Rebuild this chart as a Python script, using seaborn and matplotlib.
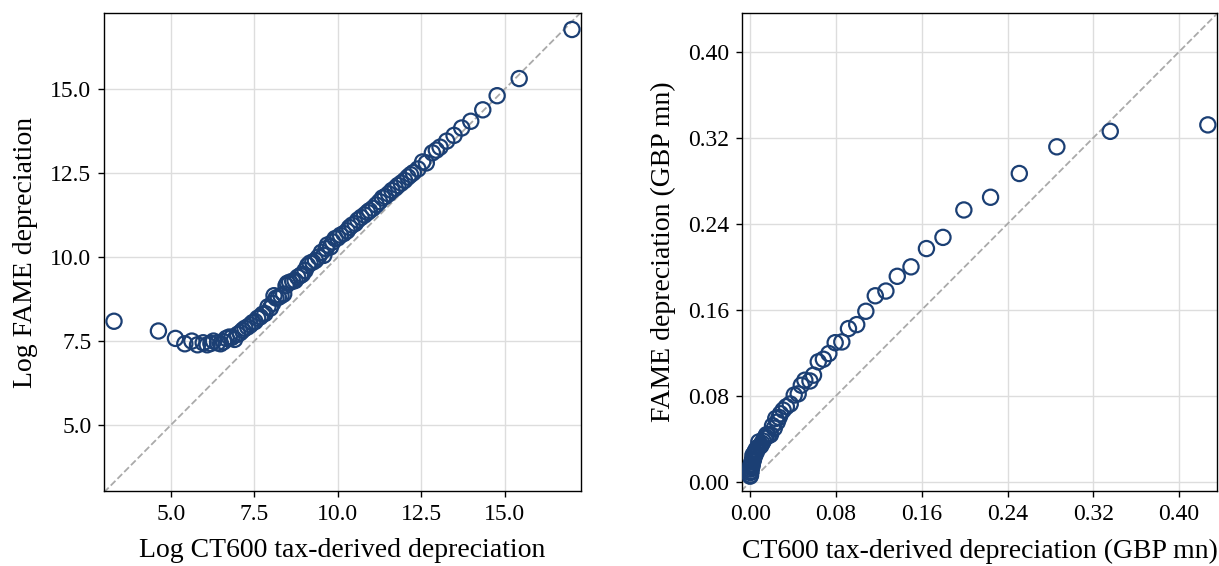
import numpy as np
import pandas as pd
import matplotlib
matplotlib.use("Agg")
import matplotlib.pyplot as plt
from matplotlib.ticker import MultipleLocator, FormatStrFormatter
import seaborn as sns

# binned scatter, log scale (left)
log_ct600 = [3.30, 4.63, 5.14, 5.42, 5.63, 5.80, 5.97, 6.09, 6.20, 6.28,
             6.40, 6.49, 6.58, 6.66, 6.75, 6.83, 6.91, 7.00, 7.08, 7.15,
             7.22, 7.30, 7.38, 7.45, 7.52, 7.60, 7.68, 7.75, 7.82, 7.91,
             7.98, 8.05, 8.09, 8.15, 8.22, 8.30, 8.38, 8.45, 8.49, 8.56,
             8.65, 8.72, 8.80, 8.88, 8.94, 9.02, 9.10, 9.17, 9.25, 9.33,
             9.42, 9.51, 9.58, 9.65, 9.69, 9.78, 9.85, 9.92, 10.00, 10.08,
             10.18, 10.28, 10.35, 10.43, 10.52, 10.60, 10.70, 10.80, 10.89, 10.95,
             11.05, 11.15, 11.25, 11.34, 11.42, 11.52, 11.62, 11.72, 11.80, 11.90,
             12.00, 12.10, 12.18, 12.26, 12.40, 12.54, 12.65, 12.83, 12.95, 13.06,
             13.26, 13.48, 13.71, 13.98, 14.34, 14.77, 15.43, 17.01]
log_fame = [8.09, 7.80, 7.58, 7.42, 7.50, 7.39, 7.45, 7.39, 7.43, 7.50,
            7.45, 7.42, 7.48, 7.58, 7.62, 7.61, 7.55, 7.70, 7.75, 7.82,
            7.88, 7.92, 7.98, 8.05, 8.08, 8.18, 8.22, 8.30, 8.32, 8.52,
            8.48, 8.62, 8.85, 8.78, 8.80, 8.85, 8.90, 9.15, 9.22, 9.25,
            9.28, 9.30, 9.40, 9.45, 9.49, 9.60, 9.75, 9.82, 9.85, 9.90,
            10.00, 10.14, 10.05, 10.25, 10.36, 10.30, 10.45, 10.55, 10.57, 10.65,
            10.70, 10.78, 10.88, 10.95, 11.00, 11.10, 11.18, 11.25, 11.33, 11.38,
            11.45, 11.55, 11.65, 11.76, 11.80, 11.88, 11.98, 12.05, 12.13, 12.20,
            12.28, 12.38, 12.45, 12.51, 12.62, 12.83, 12.80, 13.10, 13.18, 13.27,
            13.45, 13.62, 13.84, 14.04, 14.38, 14.80, 15.31, 16.77]

# binned scatter, levels in GBP mn (right)
ct600_mn = [0.0000, 0.0002, 0.0004, 0.0005, 0.0007, 0.0009, 0.0010, 0.0012, 0.0015, 0.0018,
            0.0020, 0.0023, 0.0026, 0.0030, 0.0033, 0.0037, 0.0041, 0.0046, 0.0050, 0.0056,
            0.0062, 0.0070, 0.0081, 0.0090, 0.0100, 0.0110, 0.0122, 0.0136, 0.0145, 0.0154,
            0.0170, 0.0190, 0.0209, 0.0225, 0.0239, 0.0253, 0.0270, 0.0283, 0.0308, 0.0338,
            0.0374, 0.0411, 0.0448, 0.0477, 0.0510, 0.0558, 0.0591, 0.0635, 0.0683, 0.0734,
            0.0793, 0.0855, 0.0917, 0.0994, 0.1079, 0.1167, 0.1266, 0.1372, 0.1500, 0.1644,
            0.1798, 0.1993, 0.2242, 0.2510, 0.2860, 0.3358, 0.4268]
fame_mn = [0.0054, 0.0087, 0.0065, 0.0120, 0.0154, 0.0100, 0.0135, 0.0170, 0.0140, 0.0188,
           0.0160, 0.0210, 0.0248, 0.0200, 0.0230, 0.0260, 0.0240, 0.0280, 0.0265, 0.0300,
           0.0288, 0.0320, 0.0372, 0.0330, 0.0339, 0.0360, 0.0380, 0.0406, 0.0420, 0.0440,
           0.0430, 0.0440, 0.0523, 0.0500, 0.0590, 0.0557, 0.0600, 0.0634, 0.0668, 0.0700,
           0.0725, 0.0808, 0.0819, 0.0899, 0.0946, 0.0939, 0.0993, 0.1117, 0.1141, 0.1194,
           0.1295, 0.1302, 0.1426, 0.1463, 0.1587, 0.1731, 0.1775, 0.1912, 0.2000, 0.2170,
           0.2274, 0.2529, 0.2647, 0.2868, 0.3116, 0.3260, 0.3320]

left_df = pd.DataFrame({"x": log_ct600, "y": log_fame})
right_df = pd.DataFrame({"x": ct600_mn, "y": fame_mn})

sns.set_theme(style="whitegrid")
plt.rcParams["font.family"] = ["Liberation Serif", "DejaVu Serif"]
plt.rcParams["text.color"] = "black"
plt.rcParams["axes.labelcolor"] = "black"
plt.rcParams["xtick.color"] = "black"
plt.rcParams["ytick.color"] = "black"

navy = "#1b3f74"
fig = plt.figure(figsize=(12.19, 5.66), dpi=100)
ax1 = fig.add_axes([0.0853, 0.1325, 0.3913, 0.8445])
ax2 = fig.add_axes([0.6085, 0.1325, 0.3900, 0.8445])

panels = [
    (ax1, left_df, (3.0, 17.28), (3.04, 17.26), 2.5, "%.1f",
     "Log CT600 tax-derived depreciation", "Log FAME depreciation"),
    (ax2, right_df, (-0.0078, 0.4355), (-0.0084, 0.436), 0.08, "%.2f",
     "CT600 tax-derived depreciation (GBP mn)", "FAME depreciation (GBP mn)"),
]

for ax, d, xl, yl, step, fmt, xlab, ylab in panels:
    lo, hi = min(xl[0], yl[0]), max(xl[1], yl[1])
    ax.plot([lo, hi], [lo, hi], ls="--", color="#aaaaaa", lw=1.3, zorder=1)
    sns.scatterplot(data=d, x="x", y="y", ax=ax, s=120, marker="o",
                    facecolor="none", edgecolor=navy, linewidth=1.6, zorder=3)
    ax.set_xlim(*xl)
    ax.set_ylim(*yl)
    ax.xaxis.set_major_locator(MultipleLocator(step))
    ax.yaxis.set_major_locator(MultipleLocator(step))
    ax.xaxis.set_major_formatter(FormatStrFormatter(fmt))
    ax.yaxis.set_major_formatter(FormatStrFormatter(fmt))
    ax.grid(True, color="#dddddd", lw=1.0)
    for sp in ax.spines.values():
        sp.set_color("black")
        sp.set_linewidth(1.0)
    ax.tick_params(axis="both", which="major", labelsize=17, length=4,
                   width=1, color="black", labelcolor="black", direction="out",
                   bottom=True, left=True, pad=5)
    ax.set_xlabel(xlab, fontsize=20, labelpad=10, color="black")
    ax.set_ylabel(ylab, fontsize=20, labelpad=9, color="black")

fig.savefig("out.png", dpi=100)
